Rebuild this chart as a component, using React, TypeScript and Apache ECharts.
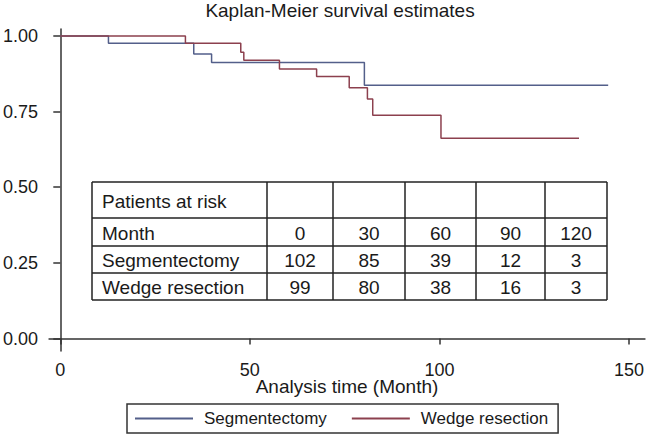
import { useEffect, useRef } from "react";
import * as echarts from "echarts";

const chartTitle = "Kaplan-Meier survival estimates";
const xAxisTitle = "Analysis time (Month)";
const seriesNames = ["Segmentectomy", "Wedge resection"];
const xTicks = [0, 50, 100, 150];
const yTicks = [0, 0.25, 0.5, 0.75, 1];

const segTimes = [0, 12.7, 35.2, 39.9, 80.2, 144.5];
const segSurvival = [1, 0.976, 0.94, 0.912, 0.837, 0.837];
const wedgeTimes = [0, 33.0, 47.6, 48.4, 57.8, 67.6, 76.2, 81.0, 82.4, 100.4, 136.8];
const wedgeSurvival = [1, 0.976, 0.946, 0.92, 0.891, 0.866, 0.829, 0.792, 0.738, 0.662, 0.662];

const riskHeader = "Patients at risk";
const riskRowLabels = ["Month", "Segmentectomy", "Wedge resection"];
const riskMonths = [0, 30, 60, 90, 120];
const riskSegmentectomy = [102, 85, 39, 12, 3];
const riskWedge = [99, 80, 38, 16, 3];

const FONT = "'Liberation Sans', Arial, Helvetica, sans-serif";
const BLUE = "#535f8a";
const RED = "#8c404e";
const INK = "#1a1a1a";
const AXIS = "#333333";

// table layout (pixels)
const colEdges = [92, 267, 333, 405, 476, 545, 607];
const rowEdges = [182, 218, 246, 273, 300];

function buildTable(): any[] {
  const els: any[] = [];
  const left = colEdges[0];
  const right = colEdges[colEdges.length - 1];
  const top = rowEdges[0];
  const bottom = rowEdges[rowEdges.length - 1];
  const lineStyle = { stroke: "#222", lineWidth: 1.5 };
  rowEdges.forEach((y) => {
    els.push({ type: "line", shape: { x1: left, y1: y, x2: right, y2: y }, style: lineStyle, silent: true });
  });
  colEdges.forEach((x) => {
    els.push({ type: "line", shape: { x1: x, y1: top, x2: x, y2: bottom }, style: lineStyle, silent: true });
  });
  const txt = (text: string, x: number, y: number, align: string) => ({
    type: "text",
    x,
    y,
    silent: true,
    style: {
      text,
      fill: INK,
      fontSize: 19,
      fontFamily: FONT,
      align,
      verticalAlign: "middle",
      textAlign: align,
      textVerticalAlign: "middle",
    },
  });
  const rowsText: (string | number)[][] = [
    [riskHeader, "", "", "", "", ""],
    [riskRowLabels[0], ...riskMonths],
    [riskRowLabels[1], ...riskSegmentectomy],
    [riskRowLabels[2], ...riskWedge],
  ];
  rowsText.forEach((row, r) => {
    const cy = (rowEdges[r] + rowEdges[r + 1]) / 2 + 1;
    row.forEach((cell, c) => {
      if (cell === "") return;
      if (c === 0) {
        els.push(txt(String(cell), colEdges[0] + 10, cy, "left"));
      } else {
        els.push(txt(String(cell), (colEdges[c] + colEdges[c + 1]) / 2, cy, "center"));
      }
    });
  });
  return els;
}

export default function App() {
  const ref = useRef<HTMLDivElement>(null);
  useEffect(() => {
    if (!ref.current) return;
    const chart = echarts.init(ref.current, undefined, { renderer: "svg" });
    const option: any = {
      animation: false,
      backgroundColor: "#ffffff",
      textStyle: { fontFamily: FONT },
      title: {
        text: chartTitle,
        left: 340,
        top: 1,
        padding: 0,
        textAlign: "center",
        textStyle: { fontSize: 19, fontWeight: "normal", color: INK, fontFamily: FONT },
      },
      grid: { left: 47, right: 2, top: 29, bottom: 86 },
      xAxis: {
        type: "value",
        min: -2.97,
        max: 154.2,
        name: xAxisTitle,
        nameLocation: "middle",
        nameGap: 26,
        nameMoveOverlap: false,
        nameTextStyle: { fontSize: 19, color: INK, fontFamily: FONT, verticalAlign: "top" },
        axisLine: { show: true, lineStyle: { color: AXIS, width: 1.5 } },
        axisTick: { show: true, customValues: xTicks, length: 6, lineStyle: { color: AXIS, width: 1.5 } },
        axisLabel: { customValues: xTicks, fontSize: 18, color: INK, margin: 10, fontFamily: FONT },
        splitLine: { show: false },
      },
      yAxis: {
        type: "value",
        min: -0.0413,
        max: 1.023,
        axisLine: { show: true, lineStyle: { color: AXIS, width: 1.5 } },
        axisTick: { show: true, customValues: yTicks, length: 7, lineStyle: { color: AXIS, width: 1.5 } },
        axisLabel: {
          customValues: yTicks,
          fontSize: 18,
          color: INK,
          margin: 11,
          fontFamily: FONT,
          formatter: (v: number) => v.toFixed(2),
        },
        splitLine: { show: false },
      },
      legend: {
        left: 127,
        top: 404,
        orient: "horizontal",
        padding: [6, 10, 6, 8],
        itemGap: 25,
        itemWidth: 58,
        itemHeight: 2,
        icon: "rect",
        borderColor: AXIS,
        borderWidth: 1.5,
        borderRadius: 0,
        textStyle: { fontSize: 17, color: INK, fontFamily: FONT, padding: [0, 0, 0, 6] },
        data: seriesNames,
      },
      series: [
        {
          type: "line",
          name: seriesNames[0],
          step: "end",
          symbol: "none",
          data: segTimes.map((t, i) => [t, segSurvival[i]]),
          lineStyle: { color: BLUE, width: 1.5 },
          itemStyle: { color: BLUE },
        },
        {
          type: "line",
          name: seriesNames[1],
          step: "end",
          symbol: "none",
          data: wedgeTimes.map((t, i) => [t, wedgeSurvival[i]]),
          lineStyle: { color: RED, width: 1.5 },
          itemStyle: { color: RED },
        },
      ],
      graphic: buildTable(),
    };
    chart.setOption(option);
    return () => chart.dispose();
  }, []);
  return (
    <div
      ref={ref}
      style={{ position: "fixed", left: 0, top: 0, width: 647, height: 437, background: "#fff" }}
    />
  );
}
